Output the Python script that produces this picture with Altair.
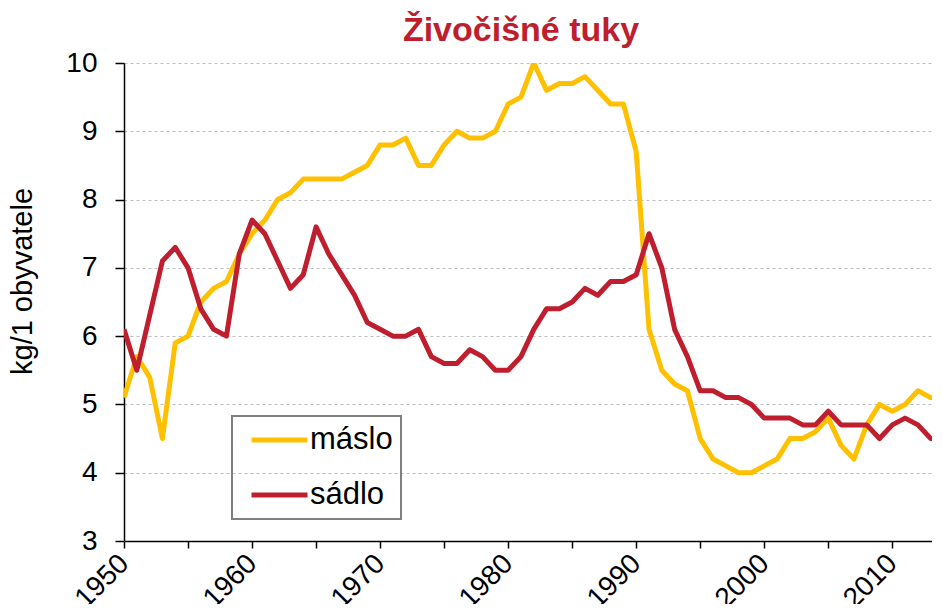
import altair as alt
import pandas as pd

years = [1950, 1951, 1952, 1953, 1954, 1955, 1956, 1957, 1958, 1959,
         1960, 1961, 1962, 1963, 1964, 1965, 1966, 1967, 1968, 1969,
         1970, 1971, 1972, 1973, 1974, 1975, 1976, 1977, 1978, 1979,
         1980, 1981, 1982, 1983, 1984, 1985, 1986, 1987, 1988, 1989,
         1990, 1991, 1992, 1993, 1994, 1995, 1996, 1997, 1998, 1999,
         2000, 2001, 2002, 2003, 2004, 2005, 2006, 2007, 2008, 2009,
         2010, 2011, 2012, 2013, 2014]

maslo = [5.1, 5.7, 5.4, 4.5, 5.9, 6.0, 6.5, 6.7, 6.8, 7.2,
         7.5, 7.7, 8.0, 8.1, 8.3, 8.3, 8.3, 8.3, 8.4, 8.5,
         8.8, 8.8, 8.9, 8.5, 8.5, 8.8, 9.0, 8.9, 8.9, 9.0,
         9.4, 9.5, 10.0, 9.6, 9.7, 9.7, 9.8, 9.6, 9.4, 9.4,
         8.7, 6.1, 5.5, 5.3, 5.2, 4.5, 4.2, 4.1, 4.0, 4.0,
         4.1, 4.2, 4.5, 4.5, 4.6, 4.8, 4.4, 4.2, 4.7, 5.0,
         4.9, 5.0, 5.2, 5.1, 5.1]

sadlo = [6.1, 5.5, 6.3, 7.1, 7.3, 7.0, 6.4, 6.1, 6.0, 7.2,
         7.7, 7.5, 7.1, 6.7, 6.9, 7.6, 7.2, 6.9, 6.6, 6.2,
         6.1, 6.0, 6.0, 6.1, 5.7, 5.6, 5.6, 5.8, 5.7, 5.5,
         5.5, 5.7, 6.1, 6.4, 6.4, 6.5, 6.7, 6.6, 6.8, 6.8,
         6.9, 7.5, 7.0, 6.1, 5.7, 5.2, 5.2, 5.1, 5.1, 5.0,
         4.8, 4.8, 4.8, 4.7, 4.7, 4.9, 4.7, 4.7, 4.7, 4.5,
         4.7, 4.8, 4.7, 4.5, 4.5]

series_names = ["máslo", "sádlo"]
series_colors = ["#FFC000", "#BE1E2D"]
y_ticks = [3, 4, 5, 6, 7, 8, 9, 10]
x_ticks = [1950, 1955, 1960, 1965, 1970, 1975, 1980, 1985, 1990, 1995, 2000, 2005, 2010]
chart_title = "Živočišné tuky"

rows = []
for name, vals in zip(series_names, [maslo, sadlo]):
    for yr, v in zip(years, vals):
        rows.append({"rok": yr, "hodnota": v, "serie": name})
df = pd.DataFrame(rows)

FONT = "Liberation Sans"

chart = alt.Chart(df).mark_line(strokeWidth=5, strokeJoin="round", clip=True).encode(
    x=alt.X("rok:Q",
            scale=alt.Scale(domain=[1950, 2013.1], nice=False, zero=False),
            axis=alt.Axis(values=x_ticks, title=None, grid=False,
                          labelExpr="datum.value % 10 === 0 ? toString(datum.value) : ''",
                          labelAngle=-45, labelAlign="right", labelBaseline="middle",
                          labelPadding=11, tickSize=7, labelFontSize=28,
                          labelOverlap=False, labelFlush=False, labelBound=False,
                          domainColor="#000000", domainWidth=1.5,
                          tickColor="#000000", tickWidth=1.5, labelColor="#000000")),
    y=alt.Y("hodnota:Q",
            scale=alt.Scale(domain=[3, 10], nice=False, zero=False),
            axis=alt.Axis(values=y_ticks, title="kg/1 obyvatele", grid=True,
                          gridColor="#BFBFBF", gridDash=[3, 3], gridWidth=1,
                          tickSize=9, labelPadding=18, labelFontSize=28,
                          domainColor="#000000", domainWidth=1.5,
                          tickColor="#000000", tickWidth=1.5, labelColor="#000000",
                          titleFontSize=29, titleFontWeight="normal", titleColor="#000000",
                          titleX=-102, titleY=218, titleAngle=-90,
                          titleAlign="center", titleBaseline="middle")),
    color=alt.Color("serie:N",
                    scale=alt.Scale(domain=series_names, range=series_colors),
                    legend=alt.Legend(title=None, orient="none", legendX=108, legendY=353,
                                      symbolType="stroke", symbolSize=3136,
                                      symbolStrokeWidth=5, clipHeight=32,
                                      labelFontSize=31, labelOffset=0,
                                      rowPadding=23, padding=8, symbolOffset=9,
                                      strokeColor="#808080", labelColor="#000000")),
    order=alt.Order("serie:N"),
).properties(
    width=808,
    height=478,
    autosize=alt.AutoSizeParams(type="none"),
    padding={"left": 116, "top": 55, "right": 0, "bottom": 63},
    title=alt.TitleParams(chart_title, fontSize=34, fontWeight="bold",
                          color="#BE1E2D", anchor="middle", offset=1, dx=-7),
).configure(
    font=FONT,
).configure_view(
    stroke=None,
).configure_legend(
    strokeWidth=2,
    labelFont=FONT,
)

chart.save("out.html", embed_options={"renderer": "svg", "actions": False})
